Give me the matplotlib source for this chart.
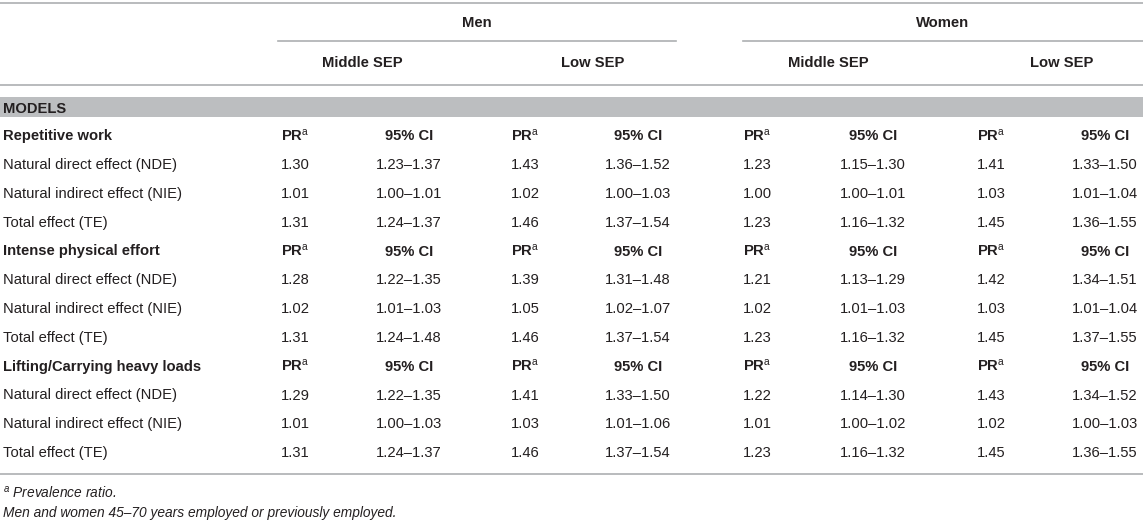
import matplotlib
matplotlib.use("Agg")
import matplotlib.pyplot as plt

plt.rcParams['font.family'] = ['Liberation Sans', 'DejaVu Sans']
plt.rcParams['mathtext.fontset'] = 'custom'
plt.rcParams['mathtext.rm'] = 'Liberation Sans'
plt.rcParams['mathtext.it'] = 'Liberation Sans:italic'
plt.rcParams['mathtext.bf'] = 'Liberation Sans:bold'

# table content
groups = ["Men", "Women"]
sep_levels = ["Middle SEP", "Low SEP", "Middle SEP", "Low SEP"]
exposures = ["Repetitive work", "Intense physical effort", "Lifting/Carrying heavy loads"]
effects = ["Natural direct effect (NDE)", "Natural indirect effect (NIE)", "Total effect (TE)"]

# PR values: one list per exposure, rows = effects, cols = men mid, men low, women mid, women low
pr_repetitive = [["1.30", "1.43", "1.23", "1.41"],
                 ["1.01", "1.02", "1.00", "1.03"],
                 ["1.31", "1.46", "1.23", "1.45"]]
ci_repetitive = [["1.23–1.37", "1.36–1.52", "1.15–1.30", "1.33–1.50"],
                 ["1.00–1.01", "1.00–1.03", "1.00–1.01", "1.01–1.04"],
                 ["1.24–1.37", "1.37–1.54", "1.16–1.32", "1.36–1.55"]]
pr_intense = [["1.28", "1.39", "1.21", "1.42"],
              ["1.02", "1.05", "1.02", "1.03"],
              ["1.31", "1.46", "1.23", "1.45"]]
ci_intense = [["1.22–1.35", "1.31–1.48", "1.13–1.29", "1.34–1.51"],
              ["1.01–1.03", "1.02–1.07", "1.01–1.03", "1.01–1.04"],
              ["1.24–1.48", "1.37–1.54", "1.16–1.32", "1.37–1.55"]]
pr_lifting = [["1.29", "1.41", "1.22", "1.43"],
              ["1.01", "1.03", "1.01", "1.02"],
              ["1.31", "1.46", "1.23", "1.45"]]
ci_lifting = [["1.22–1.35", "1.33–1.50", "1.14–1.30", "1.34–1.52"],
              ["1.00–1.03", "1.01–1.06", "1.00–1.02", "1.00–1.03"],
              ["1.24–1.37", "1.37–1.54", "1.16–1.32", "1.36–1.55"]]
pr_blocks = [pr_repetitive, pr_intense, pr_lifting]
ci_blocks = [ci_repetitive, ci_intense, ci_lifting]

footnotes = ["$^{\\mathit{a}}$ Prevalence ratio.",
             "Men and women 45–70 years employed or previously employed."]

# layout (pixels)
W, H = 1143, 523
pr_x = [281, 511, 743, 977]
ci_x = [409, 638, 873, 1105]
sep_x = [362, 593, 828, 1062]
group_x = [477, 943]
group_line = [(278, 676), (743, 1143)]
row0, row_h = 135, 28.8
base = 5.3  # centre -> baseline offset

txt = '#231f20'
line_c = '#adafb1'
fs = 10.6


def put(x, y, s, ha='left', **kw):
    ax.text(x, y + base, s, ha=ha, va='baseline', fontsize=kw.pop('fontsize', fs),
            color=txt, **kw)


fig = plt.figure(figsize=(W / 100, H / 100), dpi=100)
ax = fig.add_axes([0, 0, 1, 1])
ax.set_xlim(0, W)
ax.set_ylim(H, 0)
ax.axis('off')

ax.plot([0, W], [3, 3], color=line_c, lw=1.2)
for g, gx, (x0, x1) in zip(groups, group_x, group_line):
    put(gx, 22, g, ha='center', fontweight='bold')
    ax.plot([x0, x1], [41, 41], color=line_c, lw=1.2)
for s, sx in zip(sep_levels, sep_x):
    put(sx, 62, s, ha='center', fontweight='bold')
ax.plot([0, W], [85, 85], color=line_c, lw=1.2)

ax.add_patch(plt.Rectangle((0, 97), W, 20, color='#bcbec0', lw=0))
put(3, 107.5, "MODELS", fontweight='bold')

r = 0
for exp, prs, cis in zip(exposures, pr_blocks, ci_blocks):
    y = row0 + r * row_h
    put(3, y, exp, fontweight='bold')
    for px, cx in zip(pr_x, ci_x):
        put(px, y, "PR$^{\\mathrm{a}}$", fontweight='bold')
        put(cx, y, "95% CI", ha='center', fontweight='bold')
    r += 1
    for eff, prow, crow in zip(effects, prs, cis):
        y = row0 + r * row_h
        put(3, y, eff)
        for px, cx, p, c in zip(pr_x, ci_x, prow, crow):
            put(px, y, p)
            put(cx, y, c, ha='center')
        r += 1

ax.plot([0, W], [474, 474], color=line_c, lw=1.2)
put(3, 492, footnotes[0], fontsize=9.9, style='italic')
put(3, 512, footnotes[1], fontsize=9.9, style='italic')

fig.savefig("out.png", dpi=100)
